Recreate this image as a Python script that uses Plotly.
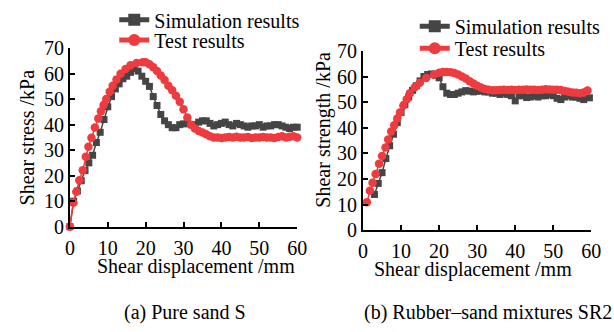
import plotly.graph_objects as go

# ---- Data: (a) Pure sand S ----
a_sim_x = [0, 1, 2, 3, 4, 5, 6, 7, 8, 9, 10, 11, 12, 13, 14, 15, 16, 17, 18, 19, 20,
           21, 22, 23, 24, 25, 26, 27, 28, 29, 30, 31, 32, 33, 34, 35, 36, 37, 38, 39, 40,
           41, 42, 43, 44, 45, 46, 47, 48, 49, 50, 51, 52, 53, 54, 55, 56, 57, 58, 59, 60]
a_sim_y = [0, 10, 14, 18, 22, 25, 28, 33, 37, 42, 47, 51, 54, 56, 58, 59, 60.5, 62, 61, 59, 57,
           55, 51, 47.5, 44, 41.5, 40, 38.8, 38.8, 40, 40.3, 40.5, 40, 40, 41, 41.5, 41.5, 40.5, 39.5, 40, 40.5,
           41, 40, 39.5, 40.5, 40, 39.5, 39, 39.5, 39.5, 40, 39, 39.5, 39.5, 40, 40, 39.5, 39, 38.5, 39, 39]

a_test_x = [0, 0.9, 1.7, 2.5, 3.4, 4.2, 4.9, 5.7, 6.6, 7.5, 8.2, 8.9, 9.6, 10.5, 11.3, 12.3, 13.4,
            14.7, 16, 17.6, 19.2, 20, 21, 22, 23, 24, 25, 26, 27, 28, 29, 30, 31, 32, 33, 34, 35,
            36, 37, 38, 39, 40, 41, 42, 43, 44, 45, 46, 47, 48, 49, 50, 51, 52, 53, 54, 55, 56,
            57, 58, 59, 60]
a_test_y = [0, 9.4, 13.7, 18.2, 22.1, 27.4, 31.3, 34.9, 38.9, 42.4, 45.3, 47.7, 50.1, 52.9, 55.3, 57.7, 60,
            61.8, 63.3, 64.2, 64.5, 64.5, 63.7, 62.5, 61, 59.3, 57.5, 55.3, 53.5, 51.3, 49, 46, 42.8, 40, 38.5, 37.5, 36.9,
            36.2, 35.5, 35, 35, 34.8, 35, 35.2, 35, 35.3, 35, 35, 35.2, 34.8, 35, 35, 35.2, 35, 35, 34.8, 35.2, 35.5,
            35, 35.3, 35.5, 35]

# ---- Data: (b) Rubber-sand mixtures SR2 ----
b_sim_x = [3, 4, 5, 6, 7, 8, 9, 10, 11, 12, 13, 14, 15, 16, 17, 18, 19, 20, 21, 22, 23, 24, 25,
           26, 27, 28, 29, 30, 31, 32, 33, 34, 35, 36, 37, 38, 39, 40, 41, 42, 43, 44, 45, 46, 47,
           48, 49, 50, 51, 52, 53, 54, 55, 56, 57, 58, 59.5]
b_sim_y = [14, 18.3, 22.5, 28, 33, 37.5, 42, 46, 49, 52, 54.6, 56.4, 58.3, 60, 60.8, 61, 60.5, 59.5, 56, 53.5, 53, 53, 53.5,
           54, 54.5, 54.3, 54, 54.2, 54.5, 54, 54, 53.5, 53.5, 53, 53.5, 53, 52.5, 50.5, 52.5, 52.5, 51.8, 52, 52.5, 52, 52.5,
           52.5, 53, 52.5, 51.5, 51, 52, 52.5, 52, 52, 51.5, 51, 51.7]

b_test_x = [1, 1.8, 2.5, 3.3, 4.2, 5, 5.9, 6.6, 7.4, 8.2, 9, 9.7, 10.6, 11.5, 12.3, 13.6, 14.9, 16.6,
            18.7, 20, 21, 22, 23, 24, 25, 26, 27, 28, 29, 30, 31, 32, 33, 34, 35, 36, 37, 38, 39, 40,
            41, 42, 43, 44, 45, 46, 47, 48, 49, 50, 51, 52, 53, 54, 55, 56, 57, 58, 59]
b_test_y = [11, 15.4, 18.6, 22, 26, 29, 32.3, 35.4, 38.6, 41, 43.6, 46, 48.7, 51.1, 53.5, 55.8, 57.6, 59.4,
            60.8, 61.5, 61.8, 61.8, 61.7, 61.4, 60.8, 60, 59.2, 58.2, 57.3, 56.4, 55.7, 55.1, 54.8, 54.6, 54.6, 54.7, 54.8, 54.7, 54.8, 54.7,
            54.8, 54.8, 54.9, 54.8, 54.8, 54.7, 54.8, 55, 54.9, 54.8, 54.8, 54.7, 54.4, 54.1, 53.8, 53.7, 53.5, 53.8, 54.5]

x_ticks = [0, 10, 20, 30, 40, 50, 60]
y_ticks = [0, 10, 20, 30, 40, 50, 60, 70]

W, H = 614, 332
FONT = "Liberation Serif"
FS = 20
GRAY = "#454545"
RED = "#ee3b3f"

fig = go.Figure()

def add_pair(sx, sy, tx, ty, xa, ya, leg_s, leg_t):
    fig.add_trace(go.Scatter(x=sx, y=sy, mode="lines+markers", name="Simulation results",
                             line=dict(color=GRAY, width=1.5),
                             marker=dict(symbol="square", size=7, color=GRAY),
                             xaxis=xa, yaxis=ya, legend=leg_s, cliponaxis=False))
    fig.add_trace(go.Scatter(x=tx, y=ty, mode="lines+markers", name="Test results",
                             line=dict(color=RED, width=1.5),
                             marker=dict(symbol="circle", size=8.5, color=RED),
                             xaxis=xa, yaxis=ya, legend=leg_t, cliponaxis=False))

add_pair(a_sim_x, a_sim_y, a_test_x, a_test_y, "x", "y", "legend", "legend2")
add_pair(b_sim_x, b_sim_y, b_test_x, b_test_y, "x2", "y2", "legend3", "legend4")

def px_x(p):
    return p / W

def px_y(p):
    return 1 - p / H

axis_common = dict(showline=True, linecolor="black", linewidth=2, ticks="inside",
                   ticklen=5, tickwidth=2, tickcolor="black", showgrid=False, zeroline=False,
                   tickfont=dict(family=FONT, size=FS, color="black"), mirror=False)

def leg(xp, yp):
    return dict(x=px_x(xp), y=px_y(yp), xanchor="left", yanchor="middle", bgcolor="rgba(0,0,0,0)",
                font=dict(family=FONT, size=FS, color="black"), tracegroupgap=0, itemsizing="constant")

fig.update_layout(
    width=W, height=H, margin=dict(l=0, r=0, t=0, b=0),
    paper_bgcolor="white", plot_bgcolor="white",
    font=dict(family=FONT, size=FS, color="black"),
    xaxis=dict(domain=[px_x(66.5), px_x(299.5)], range=[0, 60], tickvals=x_ticks, anchor="y",
               ticklabelstandoff=2, **axis_common),
    yaxis=dict(domain=[px_y(229), px_y(34)], range=[0, 70], tickvals=y_ticks, anchor="x", **axis_common),
    xaxis2=dict(domain=[px_x(367), px_x(601)], range=[0, 60], tickvals=x_ticks, anchor="y2",
                ticklabelstandoff=2, **axis_common),
    yaxis2=dict(domain=[px_y(233), px_y(37)], range=[0, 70], tickvals=y_ticks, anchor="x2", **axis_common),
    legend=leg(112, 3),
    legend2=leg(112, 25),
    legend3=leg(420, 10),
    legend4=leg(420, 34),
    showlegend=True,
)

annos = [
    dict(text="Shear displacement /mm", x=px_x(196), y=px_y(273)),
    dict(text="Shear displacement /mm", x=px_x(480), y=px_y(276)),
    dict(text="Shear stress /kPa", x=px_x(22), y=px_y(131), textangle=-90),
    dict(text="Shear strength /kPa", x=px_x(327), y=px_y(123), textangle=-90),
    dict(text="(a) Pure sand S", x=px_x(185), y=px_y(323)),
    dict(text="(b) Rubber–sand mixtures SR2", x=px_x(495), y=px_y(323)),
]
for a in annos:
    fig.add_annotation(xref="paper", yref="paper", showarrow=False, xanchor="center", yanchor="middle",
                       font=dict(family=FONT, size=FS, color="black"), **a)

fig.write_html("out.html")
